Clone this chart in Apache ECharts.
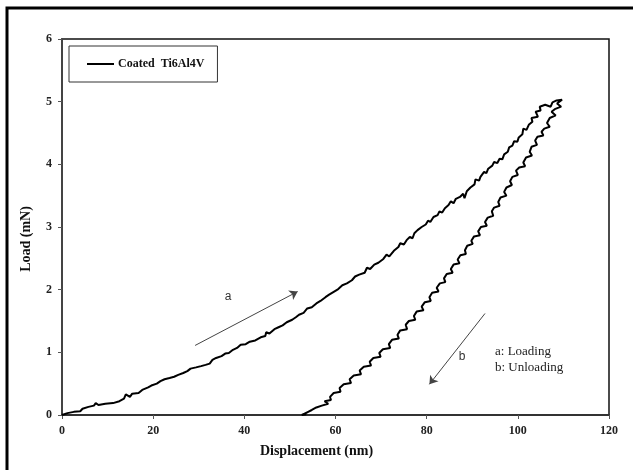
<!DOCTYPE html>
<html>
<head>
<meta charset="utf-8">
<script src="https://cdn.jsdelivr.net/npm/echarts@6/dist/echarts.min.js"></script>
<style>
html,body{margin:0;padding:0;background:#fff;}
#chart{width:633px;height:470px;}
</style>
</head>
<body>
<div id="chart"></div>
<script>
// ---- Data ----
const seriesName = 'Coated  Ti6Al4V';
const xTicks = [0, 20, 40, 60, 80, 100, 120];
const yTicks = [0, 1, 2, 3, 4, 5, 6];

// loading branch (displacement nm, load mN)
const loading = [
[0,0],[1.2,0.03],[2.6,0.05],[4.0,0.06],[4.5,0.10],[5.8,0.13],[7.0,0.15],[7.4,0.19],[8.0,0.16],[9.5,0.18],
[11.2,0.19],[12.6,0.22],[13.6,0.26],[14.0,0.33],[14.9,0.29],[15.4,0.34],[16.8,0.35],[17.6,0.40],[18.9,0.44],[19.6,0.47],
[20.8,0.50],[21.6,0.54],[22.5,0.57],[23.6,0.59],[24.6,0.61],[25.5,0.64],[26.6,0.67],[27.5,0.70],[28.2,0.74],[29.4,0.76],
[30.5,0.78],[31.5,0.80],[32.4,0.82],[33.0,0.88],[33.8,0.91],[35.0,0.94],[35.8,0.98],[36.6,0.99],[37.5,1.04],[38.4,1.07],
[39.2,1.12],[40.3,1.13],[41.2,1.17],[42.4,1.19],[43.6,1.24],[44.6,1.26],[44.8,1.32],[45.5,1.30],[46.6,1.37],[47.5,1.40],
[48.4,1.43],[49.3,1.48],[50.5,1.52],[51.3,1.56],[52.0,1.60],[53.0,1.63],[53.8,1.70],[54.8,1.72],[55.8,1.78],[56.7,1.82],
[57.8,1.88],[58.6,1.92],[59.7,1.97],[60.6,2.01],[61.5,2.07],[62.5,2.10],[63.6,2.15],[64.3,2.21],[65.2,2.24],[66.4,2.27],
[66.9,2.35],[67.6,2.33],[68.5,2.40],[69.4,2.43],[70.5,2.49],[71.2,2.56],[71.8,2.53],[72.8,2.62],[73.8,2.68],[74.2,2.74],
[75.0,2.72],[75.6,2.79],[76.3,2.84],[76.9,2.82],[77.3,2.90],[78.0,2.95],[78.9,3.00],[79.8,3.04],[80.3,3.10],[80.8,3.08],
[81.5,3.16],[82.4,3.19],[82.8,3.25],[83.4,3.23],[84.0,3.30],[84.8,3.35],[85.3,3.41],[85.9,3.38],[86.4,3.45],[87.3,3.48],
[88.0,3.53],[88.3,3.46],[88.8,3.57],[89.6,3.63],[90.5,3.68],[90.7,3.76],[91.5,3.74],[91.8,3.80],[92.6,3.88],[93.1,3.86],
[93.5,3.93],[94.4,3.98],[94.8,4.04],[95.5,4.02],[96.0,4.09],[96.6,4.08],[97.0,4.16],[97.8,4.20],[98.1,4.27],[98.8,4.30],
[99.2,4.37],[99.9,4.36],[100.2,4.43],[101.0,4.48],[101.2,4.57],[101.9,4.55],[102.4,4.63],[103.2,4.68],[103.0,4.74],[104.4,4.76],
[103.9,4.84],[105.0,4.86],[104.8,4.92],[106.0,4.95],[107.2,4.92],[107.6,4.99],[108.5,5.02],[109.7,5.03],[110.0,5.00]
];

// unloading branch
const unloading = [
[110.0,5.00],[108.6,4.97],[109.5,4.92],[108.1,4.88],[107.4,4.84],[108.3,4.78],[107.0,4.74],[106.4,4.66],[107.0,4.60],[105.8,4.57],
[105.2,4.52],[105.6,4.46],[104.3,4.44],[103.8,4.38],[104.2,4.31],[103.0,4.28],[102.6,4.20],[103.1,4.14],[101.8,4.11],[101.2,4.03],
[101.6,3.97],[100.3,3.95],[99.6,3.90],[100.0,3.83],[98.8,3.80],[98.3,3.73],[98.7,3.67],[97.5,3.63],[97.0,3.56],[97.5,3.50],
[96.2,3.47],[95.7,3.40],[96.0,3.34],[94.8,3.31],[94.3,3.25],[94.6,3.18],[93.4,3.15],[92.8,3.08],[93.2,3.02],[91.9,3.00],
[91.3,2.93],[91.7,2.87],[90.4,2.85],[89.8,2.78],[90.1,2.73],[88.9,2.70],[88.4,2.63],[88.6,2.57],[87.4,2.55],[86.8,2.48],
[87.2,2.42],[85.9,2.40],[85.3,2.33],[85.7,2.27],[84.4,2.25],[83.8,2.18],[84.1,2.12],[82.9,2.10],[82.2,2.03],[82.6,1.97],
[81.2,1.95],[80.6,1.88],[80.9,1.82],[79.6,1.80],[78.9,1.73],[79.3,1.67],[77.8,1.65],[77.2,1.58],[77.5,1.52],[76.1,1.50],
[75.4,1.44],[75.7,1.37],[74.2,1.35],[73.6,1.28],[73.9,1.22],[72.4,1.20],[71.7,1.13],[72.0,1.07],[70.4,1.05],[69.6,0.99],
[69.9,0.93],[68.3,0.91],[67.5,0.85],[67.8,0.79],[66.2,0.77],[65.3,0.71],[65.6,0.65],[64.0,0.63],[63.1,0.57],[63.4,0.51],
[61.8,0.49],[60.9,0.43],[61.1,0.37],[59.6,0.35],[58.8,0.29],[59.0,0.24],[57.6,0.22],[58.4,0.18],[57.0,0.15],[55.8,0.12],
[54.8,0.08],[54.0,0.05],[53.2,0.02],[52.6,0.00],[53.6,0.01]
];

// annotation arrows (data coordinates: tail -> head)
const arrowA = [[29.2, 1.11], [51.7, 1.97]];
const arrowB = [[92.8, 1.62], [80.6, 0.49]];

const serif = '"Liberation Serif", "Times New Roman", serif';
const sans = '"Liberation Sans", Arial, sans-serif';

const chart = echarts.init(document.getElementById('chart'), null, {renderer: 'canvas'});
chart.setOption({
  animation: false,
  backgroundColor: '#fff',
  grid: {left: 62, top: 39, right: 24, bottom: 55, show: true, borderColor: '#111', borderWidth: 1.5, backgroundColor: 'transparent'},
  legend: {
    left: 69, top: 46,
    padding: [11, 13, 11, 18],
    itemWidth: 27, itemHeight: 2, itemGap: 5,
    icon: 'rect',
    borderColor: '#333', borderWidth: 1,
    backgroundColor: '#fff',
    textStyle: {fontFamily: serif, fontWeight: 'bold', fontSize: 12, color: '#111', lineHeight: 14, padding: [0,0,0,-1]},
    data: [seriesName]
  },
  xAxis: {
    type: 'value', min: 0, max: 120, interval: 20,
    axisLine: {show: true, lineStyle: {color: '#333', width: 2}},
    axisTick: {show: true, length: 4, lineStyle: {color: '#555', width: 1}},
    splitLine: {show: false},
    axisLabel: {fontFamily: serif, fontWeight: 'bold', fontSize: 12, color: '#222', margin: 10,
      formatter: v => xTicks.includes(v) ? String(v) : ''}
  },
  yAxis: {
    type: 'value', min: 0, max: 6, interval: 1,
    axisLine: {show: true, lineStyle: {color: '#444', width: 2}},
    axisTick: {show: true, length: 4, lineStyle: {color: '#555', width: 1}},
    splitLine: {show: false},
    axisLabel: {fontFamily: serif, fontWeight: 'bold', fontSize: 12, color: '#222', margin: 10,
      formatter: v => yTicks.includes(v) ? String(v) : ''}
  },
  series: [{
    name: seriesName,
    type: 'line',
    data: loading.concat(unloading),
    showSymbol: false,
    symbol: 'none',
    lineStyle: {color: '#000', width: 2},
    itemStyle: {color: '#000'},
    markLine: {
      silent: true,
      symbol: ['none', 'arrow'],
      symbolSize: 8,
      label: {show: false},
      lineStyle: {color: '#444', width: 1, type: 'solid'},
      data: [
        [{coord: arrowA[0]}, {coord: arrowA[1]}],
        [{coord: arrowB[0]}, {coord: arrowB[1]}]
      ]
    }
  }],
  graphic: [
    {type: 'rect', shape: {x: 7, y: 8, width: 640, height: 480}, style: {fill: 'none', stroke: '#000', lineWidth: 3}, silent: true},
    {type: 'text', left: 'center', top: 444, style: {text: 'Displacement (nm)', font: 'bold 14px ' + serif, fill: '#111'}, silent: true},
    {type: 'text', x: 26, y: 239, rotation: Math.PI / 2, style: {text: 'Load (mN)', font: 'bold 14px ' + serif, fill: '#111', align: 'center', verticalAlign: 'middle'}, silent: true},
    {type: 'text', x: 228, y: 297, style: {text: 'a', font: '12px ' + sans, fill: '#333', align: 'center', verticalAlign: 'middle'}, silent: true},
    {type: 'text', x: 462, y: 357, style: {text: 'b', font: '12px ' + sans, fill: '#333', align: 'center', verticalAlign: 'middle'}, silent: true},
    {type: 'text', x: 495, y: 352, style: {text: 'a: Loading', font: '13px ' + serif, fill: '#222', verticalAlign: 'middle'}, silent: true},
    {type: 'text', x: 495, y: 368, style: {text: 'b: Unloading', font: '13px ' + serif, fill: '#222', verticalAlign: 'middle'}, silent: true}
  ]
});
</script>
</body>
</html>
